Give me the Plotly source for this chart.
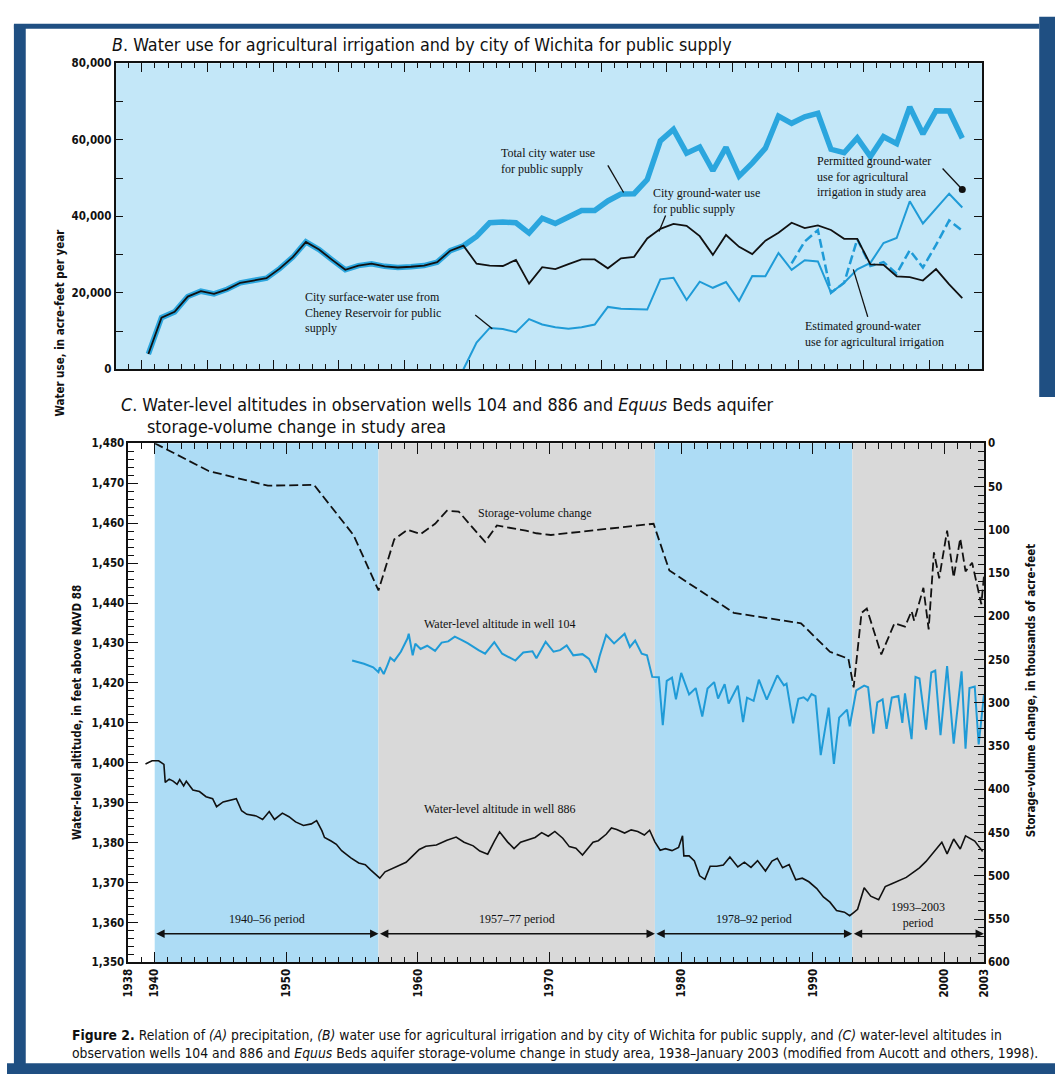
import plotly.graph_objects as go

W, H = 1062, 1081

# ---------------- Panel B data (annual, acre-feet per year) ----------------
city_years = list(range(1940, 2003))
total_city_use = [4000, 13500, 15000, 19000, 20400, 19700, 20900, 22600, 23200, 23800,
                  26300, 29300, 33300, 31300, 28600, 26000, 27100, 27600, 26900, 26600,
                  26800, 27100, 28000, 31000, 32300, 34700, 38300, 38500, 38300, 35600,
                  39500, 38100, 39800, 41500, 41500, 44000, 45800, 45900, 49600, 59700,
                  62700, 56500, 58100, 51900, 58000, 50500, 53900, 57800, 66200, 64300,
                  66000, 66900, 57500, 56600, 60500, 55600, 60800, 59000, 68600, 61500,
                  67600, 67500, 60400]
city_ground_use = [4000, 13500, 15000, 19000, 20400, 19700, 20900, 22600, 23200, 23800,
                   26300, 29300, 33300, 31300, 28600, 26000, 27100, 27600, 26900, 26600,
                   26800, 27100, 28000, 31000, 32300, 27600, 27100, 27000, 28600, 22400,
                   26700, 26200, 27500, 28700, 28700, 26400, 29000, 29400, 34200, 36700,
                   38000, 37500, 34800, 29900, 35100, 32000, 30100, 33600, 35700, 38300,
                   36900, 37600, 36400, 34100, 34100, 27400, 27300, 24300, 24100, 23200,
                   26200, 22200, 18600]
surface_years = list(range(1964, 2003))
surface_use = [0, 7000, 10800, 10500, 9700, 13100, 11700, 11000, 10600, 11000,
               11700, 16300, 15800, 15700, 15600, 23500, 23900, 18100, 22900, 21300,
               22800, 17900, 24400, 24300, 30400, 26000, 28500, 28200, 20000, 22600,
               26100, 27800, 33000, 34300, 43900, 38100, 42000, 45900, 42300]
irrig_years = list(range(1989, 2003))
irrig_estimated = [27700, 33400, 36400, 20000, 22600, 34000, 27000, 28000, 25000, 31100,
                   26600, 32500, 38900, 36200]
permitted_year = [2002]
permitted_use = [47000]

# ---------------- Panel C data ----------------
storage_time = [1940.0, 1944.1, 1948.6, 1952.1, 1955.1, 1957.0, 1958.2, 1959.2, 1960.2, 1961.3,
                1962.2, 1963.1, 1965.1, 1966.0, 1968.2, 1969.0, 1970.1, 1977.9, 1979.1, 1984.0,
                1989.1, 1991.3, 1992.7, 1993.1, 1993.7, 1994.1, 1995.2, 1996.2, 1997.0, 1997.5,
                1997.7, 1998.4, 1998.8, 1999.2, 1999.6, 2000.2, 2000.7, 2001.2, 2001.6, 2002.1,
                2002.8, 2003.0]
storage_change = [0, 32, 49, 48, 106, 170, 111, 100, 105, 93,
                  78, 79, 114, 95, 101, 104, 106, 93, 147, 196,
                  208, 241, 249, 282, 196, 191, 244, 208, 212, 194,
                  205, 167, 215, 126, 156, 101, 155, 110, 148, 138,
                  186, 154]

well104_time = [1955.0, 1955.9, 1956.6, 1957.0, 1957.1, 1957.4, 1957.7, 1957.9, 1958.2, 1958.7,
                1959.2, 1959.3, 1959.6, 1959.8, 1960.2, 1960.7, 1961.3, 1961.8, 1962.3, 1962.8,
                1963.3, 1963.8, 1964.6, 1965.1, 1965.8, 1966.4, 1967.4, 1968.0, 1968.7, 1969.0,
                1969.7, 1970.3, 1970.8, 1971.3, 1971.8, 1972.5, 1973.0, 1973.5, 1973.8, 1974.3,
                1974.9, 1975.7, 1976.1, 1976.5, 1977.0, 1977.4, 1977.8, 1978.3, 1978.6, 1978.9,
                1979.3, 1979.6, 1980.0, 1980.6, 1981.1, 1981.6, 1982.0, 1982.5, 1982.8, 1983.3,
                1983.6, 1984.3, 1984.7, 1985.0, 1985.5, 1985.9, 1986.5, 1987.3, 1987.8, 1988.0,
                1988.5, 1988.9, 1989.3, 1989.6, 1989.9, 1990.2, 1990.6, 1991.2, 1991.6, 1992.0,
                1992.6, 1992.8, 1993.3, 1993.9, 1994.2, 1994.6, 1994.9, 1995.3, 1995.6, 1996.0,
                1996.5, 1996.8, 1997.0, 1997.5, 1997.8, 1998.1, 1998.6, 1999.0, 1999.3, 1999.7,
                2000.2, 2000.7, 2001.3, 2001.6, 2001.9, 2002.3, 2002.6, 2003.0]
well104_level = [1425.6, 1424.8, 1423.9, 1422.7, 1423.9, 1422.2, 1424.6, 1426.3, 1425.5, 1427.8,
                 1431.1, 1432.3, 1426.9, 1429.8, 1428.5, 1429.3, 1428.0, 1430.1, 1430.4, 1431.6,
                 1430.8, 1429.9, 1428.2, 1427.3, 1430.2, 1427.3, 1425.6, 1427.6, 1427.9, 1426.2,
                 1430.3, 1427.8, 1428.2, 1429.4, 1426.9, 1427.2, 1426.0, 1422.6, 1426.7, 1432.0,
                 1429.9, 1432.3, 1429.0, 1430.6, 1427.3, 1426.9, 1421.5, 1421.4, 1409.4, 1420.5,
                 1421.3, 1415.9, 1422.5, 1417.1, 1418.7, 1411.6, 1418.6, 1420.2, 1416.1, 1419.7,
                 1414.8, 1419.3, 1410.2, 1416.3, 1415.5, 1420.8, 1415.8, 1421.9, 1419.4, 1419.8,
                 1409.9, 1416.0, 1416.4, 1415.6, 1417.2, 1416.7, 1401.9, 1413.8, 1399.7, 1411.3,
                 1413.3, 1409.1, 1418.1, 1419.3, 1418.9, 1407.3, 1415.1, 1415.9, 1408.5, 1416.3,
                 1416.7, 1410.0, 1417.4, 1405.9, 1421.5, 1421.1, 1408.3, 1422.6, 1423.1, 1406.9,
                 1424.2, 1404.8, 1422.9, 1403.5, 1418.7, 1419.1, 1404.6, 1417.0]

well886_time = [1939.3, 1939.5, 1939.8, 1940.3, 1940.7, 1940.8, 1941.1, 1941.4, 1941.7, 1941.9,
                1942.2, 1942.4, 1942.9, 1943.4, 1943.9, 1944.4, 1944.7, 1945.2, 1945.7, 1946.2,
                1946.6, 1947.0, 1947.7, 1948.2, 1948.7, 1949.1, 1949.7, 1950.2, 1950.7, 1951.3,
                1951.9, 1952.3, 1952.7, 1952.9, 1953.4, 1953.8, 1954.2, 1954.9, 1955.5, 1956.0,
                1956.4, 1956.8, 1957.1, 1957.5, 1958.0, 1958.6, 1959.1, 1959.6, 1960.1, 1960.6,
                1961.4, 1962.2, 1962.9, 1963.5, 1964.2, 1964.7, 1965.3, 1965.8, 1966.2, 1966.8,
                1967.3, 1967.8, 1968.5, 1968.9, 1969.4, 1969.9, 1970.4, 1971.0, 1971.5, 1972.0,
                1972.5, 1972.9, 1973.3, 1973.7, 1974.3, 1974.7, 1975.1, 1975.7, 1976.2, 1976.7,
                1977.2, 1977.6, 1978.0, 1978.4, 1978.8, 1979.3, 1979.8, 1980.1, 1980.2, 1980.6,
                1981.0, 1981.4, 1981.8, 1982.2, 1982.7, 1983.2, 1983.7, 1984.3, 1984.8, 1985.3,
                1985.8, 1986.4, 1986.9, 1987.3, 1987.7, 1988.2, 1988.7, 1989.2, 1989.7, 1990.3,
                1990.8, 1991.3, 1991.8, 1992.4, 1992.8, 1993.1, 1993.4, 1993.9, 1994.4, 1995.0,
                1995.5, 1996.0, 1996.5, 1997.1, 1997.6, 1998.1, 1998.6, 1999.0, 1999.4, 1999.8,
                2000.2, 2000.7, 2001.2, 2001.6, 2002.3, 2002.9]
well886_level = [1399.7, 1400.1, 1400.5, 1400.5, 1399.6, 1395.1, 1395.9, 1395.4, 1394.6, 1395.8,
                 1394.2, 1395.4, 1393.2, 1392.8, 1391.5, 1391.0, 1389.0, 1390.2, 1390.6, 1391.0,
                 1388.0, 1387.1, 1386.7, 1385.8, 1387.8, 1385.8, 1387.4, 1386.5, 1385.2, 1384.3,
                 1384.7, 1385.5, 1383.0, 1381.3, 1380.4, 1379.6, 1378.0, 1376.2, 1374.9, 1374.5,
                 1373.2, 1372.0, 1371.1, 1372.7, 1373.5, 1374.3, 1375.1, 1376.7, 1378.3, 1379.1,
                 1379.4, 1380.6, 1381.4, 1380.1, 1379.2, 1377.9, 1377.1, 1380.3, 1382.7, 1380.2,
                 1378.5, 1380.1, 1380.9, 1381.3, 1382.5, 1381.6, 1382.8, 1381.1, 1379.0, 1378.6,
                 1376.9, 1378.5, 1380.1, 1380.5, 1382.1, 1383.7, 1383.3, 1382.4, 1383.2, 1382.8,
                 1381.9, 1383.1, 1380.2, 1378.1, 1378.5, 1378.0, 1378.8, 1381.7, 1376.7, 1376.7,
                 1375.4, 1371.7, 1370.8, 1374.1, 1374.1, 1374.4, 1376.4, 1373.9, 1375.1, 1373.8,
                 1375.5, 1372.9, 1375.4, 1376.1, 1373.7, 1374.5, 1370.7, 1371.1, 1370.2, 1368.5,
                 1366.4, 1365.1, 1363.0, 1362.6, 1361.7, 1362.5, 1363.3, 1368.7, 1366.6, 1365.7,
                 1369.0, 1369.7, 1370.5, 1371.3, 1372.5, 1373.7, 1375.3, 1376.9, 1378.5, 1380.1,
                 1377.2, 1380.9, 1378.4, 1381.7, 1380.4, 1377.8]

period_edges = [1940, 1957, 1978, 1993, 2003]
period_labels = ["1940\u201356 period", "1957\u201377 period", "1978\u201392 period",
                 "1993\u20132003<br>period"]
xtick_years = [1938, 1940, 1950, 1960, 1970, 1980, 1990, 2000, 2003]

# ---------------- styling ----------------
COND = "Liberation Sans Narrow, Arial Narrow, DejaVu Sans Condensed, sans-serif"
SERIF = "Liberation Serif, Times New Roman, serif"
BLUE = "#1f9bd7"
THICK = "#2ba6de"
NAVY = "#1f4f82"
PANEL_BLUE = "#c3e7f8"
BAND_BLUE = "#addcf5"
BAND_GRAY = "#d9d9d9"


def fx(p):
    return p / W


def fy(p):
    return 1 - p / H


mid = lambda ys: [y + 0.5 for y in ys]

fig = go.Figure()

# Panel B traces
fig.add_trace(go.Scatter(x=mid(city_years), y=total_city_use, mode="lines",
                         line=dict(color=THICK, width=5.5), xaxis="x", yaxis="y",
                         showlegend=False))
fig.add_trace(go.Scatter(x=mid(surface_years), y=surface_use, mode="lines",
                         line=dict(color=BLUE, width=2), xaxis="x", yaxis="y",
                         showlegend=False))
fig.add_trace(go.Scatter(x=mid(irrig_years), y=irrig_estimated, mode="lines",
                         line=dict(color=BLUE, width=2.5, dash="9px,4px"), xaxis="x", yaxis="y",
                         showlegend=False))
fig.add_trace(go.Scatter(x=mid(city_years), y=city_ground_use, mode="lines",
                         line=dict(color="#111111", width=1.8), xaxis="x", yaxis="y",
                         showlegend=False))
fig.add_trace(go.Scatter(x=mid(permitted_year), y=permitted_use, mode="markers",
                         marker=dict(color="#111111", size=7), xaxis="x", yaxis="y",
                         showlegend=False))

# Panel C traces
fig.add_trace(go.Scatter(x=storage_time, y=storage_change, mode="lines",
                         line=dict(color="#111111", width=1.8, dash="9px,4px"),
                         xaxis="x2", yaxis="y3", showlegend=False))
fig.add_trace(go.Scatter(x=well104_time, y=well104_level, mode="lines",
                         line=dict(color=BLUE, width=2), xaxis="x2", yaxis="y2",
                         showlegend=False))
fig.add_trace(go.Scatter(x=well886_time, y=well886_level, mode="lines",
                         line=dict(color="#111111", width=1.6), xaxis="x2", yaxis="y2",
                         showlegend=False))

shapes = []
# page frame decorations
shapes += [
    dict(type="rect", xref="paper", yref="paper", x0=fx(7), x1=fx(19), y0=0, y1=fy(18),
         fillcolor=NAVY, line=dict(width=0)),
    dict(type="rect", xref="paper", yref="paper", x0=fx(7), x1=fx(1046), y0=fy(22), y1=fy(17),
         fillcolor=NAVY, line=dict(width=0)),
    dict(type="rect", xref="paper", yref="paper", x0=fx(1046), x1=1, y0=fy(395), y1=fy(10),
         fillcolor=NAVY, line=dict(width=0)),
    dict(type="rect", xref="paper", yref="paper", x0=0, x1=1, y0=0, y1=fy(1070),
         fillcolor=NAVY, line=dict(width=0)),
]
# panel B background
shapes.append(dict(type="rect", xref="x domain", yref="y domain", x0=0, x1=1, y0=0, y1=1,
                   fillcolor=PANEL_BLUE, line=dict(width=0), layer="below"))
# panel C period bands
for i in range(len(period_edges) - 1):
    shapes.append(dict(type="rect", xref="x2", yref="y2 domain",
                       x0=period_edges[i], x1=period_edges[i + 1], y0=0, y1=1,
                       fillcolor=BAND_BLUE if i % 2 == 0 else BAND_GRAY,
                       line=dict(width=0), layer="below"))

# leader lines for panel B labels
leaders = [
    ((1975.5, 53300), (1976.7, 46200)),
    ((1979.9, 40200), (1979.4, 36000)),
    ((2001.0, 52500), (2002.5, 47000)),
    ((1995.3, 13700), (1994.2, 26100)),
    ((1965.4, 14200), (1966.7, 10600)),
]
for (a, b) in leaders:
    shapes.append(dict(type="line", xref="x", yref="y", x0=a[0], y0=a[1], x1=b[0], y1=b[1],
                       line=dict(color="#111111", width=1.3)))

TITLE_SIZE = 17.8
ann = []
# titles
ann.append(dict(text="<i>B</i>. Water use for agricultural irrigation and by city of Wichita for public supply",
                x=fx(104), y=fy(38), xref="paper", yref="paper", xanchor="left", yanchor="middle",
                showarrow=False, font=dict(family=COND, size=TITLE_SIZE, color="#111")))
ann.append(dict(text="<i>C</i>. Water-level altitudes in observation wells 104 and 886 and <i>Equus</i> Beds aquifer",
                x=fx(114), y=fy(403), xref="paper", yref="paper", xanchor="left", yanchor="middle",
                showarrow=False, font=dict(family=COND, size=TITLE_SIZE, color="#111")))
ann.append(dict(text="storage-volume change in study area",
                x=fx(140), y=fy(425), xref="paper", yref="paper", xanchor="left", yanchor="middle",
                showarrow=False, font=dict(family=COND, size=TITLE_SIZE, color="#111")))
# axis titles
ann.append(dict(text="<b>Water use, in acre-feet per year</b>", x=fx(45), y=fy(222),
                xref="paper", yref="paper", textangle=-90, showarrow=False,
                font=dict(family=COND, size=11.5, color="#111")))
ann.append(dict(text="<b>Water-level altitude, in feet above NAVD 88</b>", x=fx(62), y=fy(715),
                xref="paper", yref="paper", textangle=-90, showarrow=False,
                font=dict(family=COND, size=11.5, color="#111")))
ann.append(dict(text="<b>Storage-volume change, in thousands of acre-feet</b>", x=fx(1047), y=fy(692),
                xref="paper", yref="paper", textangle=-90, showarrow=False,
                font=dict(family=COND, size=11.5, color="#111")))
# caption
CAP_SIZE = 13.8
ann.append(dict(text="<b>Figure 2.</b> Relation of <i>(A)</i> precipitation, <i>(B)</i> water use for agricultural irrigation and by city of Wichita for public supply, and <i>(C)</i> water-level altitudes in",
                x=fx(64), y=fy(1041), xref="paper", yref="paper", xanchor="left", yanchor="middle",
                showarrow=False, font=dict(family=COND, size=CAP_SIZE, color="#111")))
ann.append(dict(text="observation wells 104 and 886 and <i>Equus</i> Beds aquifer storage-volume change in study area, 1938\u2013January 2003 (modified from Aucott and others, 1998).",
                x=fx(64), y=fy(1060), xref="paper", yref="paper", xanchor="left", yanchor="middle",
                showarrow=False, font=dict(family=COND, size=CAP_SIZE, color="#111")))

# panel B labels
lab_font = dict(family=SERIF, size=12, color="#111")
ann += [
    dict(text="Total city water use<br>for public supply", x=1967.2, y=54500, xref="x", yref="y",
         xanchor="left", yanchor="middle", align="left", showarrow=False, font=lab_font),
    dict(text="City ground-water use<br>for public supply", x=1978.8, y=44000, xref="x", yref="y",
         xanchor="left", yanchor="middle", align="left", showarrow=False, font=lab_font),
    dict(text="Permitted ground-water<br>use for agricultural<br>irrigation in study area", x=1991.3, y=50500,
         xref="x", yref="y", xanchor="left", yanchor="middle", align="left", showarrow=False, font=lab_font),
    dict(text="Estimated ground-water<br>use for agricultural irrigation", x=1990.4, y=9300,
         xref="x", yref="y", xanchor="left", yanchor="middle", align="left", showarrow=False, font=lab_font),
    dict(text="City surface-water use from<br>Cheney Reservoir for public<br>supply", x=1952.3, y=14800,
         xref="x", yref="y", xanchor="left", yanchor="middle", align="left", showarrow=False, font=lab_font),
]
# panel C labels
ann += [
    dict(text="Storage-volume change", x=1968.9, y=1462.5, xref="x2", yref="y2", showarrow=False, font=lab_font),
    dict(text="Water-level altitude in well 104", x=1966.2, y=1434.8, xref="x2", yref="y2", showarrow=False, font=lab_font),
    dict(text="Water-level altitude in well 886", x=1966.2, y=1388.5, xref="x2", yref="y2", showarrow=False, font=lab_font),
]
label_y = [1358.6, 1358.6, 1358.6, 1362.0]
for i in range(len(period_edges) - 1):
    a, b = period_edges[i], period_edges[i + 1]
    ann.append(dict(text=period_labels[i], x=(a + b) / 2, y=label_y[i], xref="x2", yref="y2",
                    showarrow=False, font=lab_font, yanchor="bottom" if i < 3 else "middle"))
    ann.append(dict(text="", x=b, y=1357.2, ax=a, ay=1357.2, xref="x2", yref="y2",
                    axref="x2", ayref="y2", showarrow=True, arrowhead=2, arrowside="end+start",
                    arrowsize=1.2, arrowwidth=1.4, arrowcolor="#111"))

tick_font = dict(family=COND, size=11.5, color="#111", weight="bold")
axis_common = dict(showline=True, linecolor="#111", linewidth=1.5, showgrid=False, zeroline=False)

fig.update_layout(
    width=W, height=H, autosize=False,
    margin=dict(l=0, r=0, t=0, b=0),
    paper_bgcolor="white", plot_bgcolor="rgba(0,0,0,0)",
    showlegend=False,
    shapes=shapes, annotations=ann,
    xaxis=dict(domain=[fx(110), fx(988)], range=[1938, 2004], anchor="y",
               ticks="inside", ticklen=9, tickwidth=1.3, tickcolor="#111", dtick=5, tick0=1940,
               showticklabels=False, mirror="ticks",
               minor=dict(ticks="inside", ticklen=5, dtick=1, tick0=1938, tickcolor="#111", tickwidth=1.2),
               **axis_common),
    yaxis=dict(domain=[fy(367), fy(57)], range=[0, 80000], anchor="x",
               ticks="inside", ticklen=8, tickwidth=1.3, tickcolor="#111", dtick=20000,
               tickformat=",", tickfont=tick_font, mirror="ticks",
               minor=dict(ticks="inside", ticklen=8, dtick=10000, tickcolor="#111", tickwidth=1.3),
               **axis_common),
    xaxis2=dict(domain=[fx(123), fx(990)], range=[1938, 2003], anchor="y2",
                tickmode="array", tickvals=xtick_years, ticktext=[str(v) for v in xtick_years],
                ticks="inside", ticklen=11, tickwidth=1.3, tickcolor="#111",
                tickangle=-90, tickfont=dict(family=COND, size=11.5, color="#111", weight="bold"),
                mirror="ticks",
                minor=dict(ticks="inside", ticklen=6, dtick=1, tick0=1938, tickcolor="#111", tickwidth=1.2),
                **axis_common),
    yaxis2=dict(domain=[fy(968), fy(442)], range=[1350, 1480], anchor="x2",
                ticks="inside", ticklen=10, tickwidth=1.3, tickcolor="#111", dtick=10,
                tickformat=",", tickfont=tick_font,
                minor=dict(ticks="inside", ticklen=6, dtick=2, tickcolor="#111", tickwidth=1.2),
                **axis_common),
    yaxis3=dict(range=[600, 0], anchor="x2", overlaying="y2", side="right",
                ticks="inside", ticklen=10, tickwidth=1.3, tickcolor="#111", dtick=50,
                tickfont=tick_font,
                minor=dict(ticks="inside", ticklen=6, dtick=10, tickcolor="#111", tickwidth=1.2),
                **axis_common),
)

fig.write_html("out.html", config={"displayModeBar": False},
               post_script="document.body.style.margin='0px';document.body.style.overflow='hidden';")
